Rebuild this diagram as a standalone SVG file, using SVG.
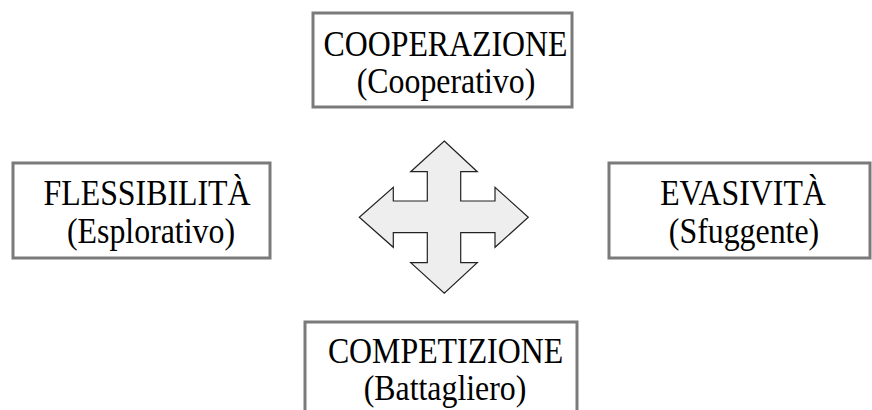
<svg xmlns="http://www.w3.org/2000/svg" width="872" height="410" viewBox="0 0 872 410">
<style>
.box{fill:#ffffff;stroke:#7a7a7a;stroke-width:3}
.t{font-family:"Liberation Serif","Times New Roman",serif;font-size:35px;fill:#000;text-anchor:middle}
.cross{fill:#eeeeee;stroke:#222;stroke-width:1.2;stroke-linejoin:miter}
</style>
<rect width="872" height="410" fill="#ffffff"/>
<g id="cooperazione">
<rect class="box" x="313" y="13" width="259" height="94"/>
<text class="t" transform="translate(445.5,56) scale(0.91,1)">COOPERAZIONE</text>
<text class="t" transform="translate(446,93) scale(0.91,1)">(Cooperativo)</text>
</g>
<g id="flessibilita">
<rect class="box" x="13" y="163" width="257" height="95"/>
<text class="t" transform="translate(147,205) scale(0.91,1)">FLESSIBILITÀ</text>
<text class="t" transform="translate(151,243) scale(0.91,1)">(Esplorativo)</text>
</g>
<g id="evasivita">
<rect class="box" x="609" y="163" width="261" height="95"/>
<text class="t" transform="translate(743,205) scale(0.91,1)">EVASIVITÀ</text>
<text class="t" transform="translate(744,243) scale(0.91,1)">(Sfuggente)</text>
</g>
<g id="competizione">
<rect class="box" x="305" y="322" width="272" height="100"/>
<text class="t" transform="translate(445.5,363) scale(0.91,1)">COMPETIZIONE</text>
<text class="t" transform="translate(445,400) scale(0.91,1)">(Battagliero)</text>
</g>
<g id="connectors">
<polygon class="cross" points="444.3,141 477.3,171.7 460.7,171.7 460.7,201 495,201 495,187.3 528.3,217.3 495,247.3 495,232.7 460.7,232.7 460.7,262.7 477.3,262.7 444.3,293.3 410.7,262.7 427.3,262.7 427.3,232.7 393.3,232.7 393.3,247.3 359.3,217.3 393.3,187.3 393.3,201 427.3,201 427.3,171.7 410.7,171.7"/>
</g>
</svg>
